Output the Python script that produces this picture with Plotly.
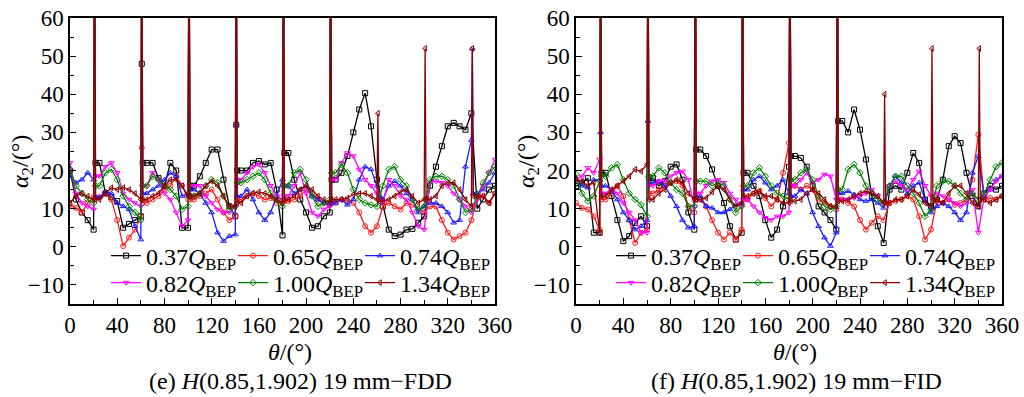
import plotly.graph_objects as go

THETA = list(range(0, 361, 5))
SPIKE_THETA = [20, 60, 100, 140, 180, 220, 260, 300, 340]

LABELS = ["0.37", "0.65", "0.74", "0.82", "1.00", "1.34"]
COLORS = ["#000000", "#ff1a1a", "#1a1aff", "#ff00ff", "#008000", "#8b0000"]
SYMBOLS = ["square-open", "circle-open", "triangle-up-open", "triangle-down-open",
           "diamond-open", "triangle-left-open"]

# ---- panel (e) FDD ----
E_037 = [20, 12.4, 9, 7, 4.5, 22, 14, 13, 12, 5, 6, 7, 8, 22, 22, 18, 16, 22, 20, 5, 5,
         16, 18.5, 22, 25.5, 25.5, 17.6, 10.6, 8, 20, 20, 22, 22.5, 21.6, 22, 15, 3,
         24.6, 17.6, 12.4, 9, 5, 5.4, 8, 9, 17.6, 19.4, 23.8, 30, 36, 40.3, 31.6, 17.6,
         10.6, 4.5, 2.8, 3.2, 4.5, 4.7, 6.3, 8, 16, 21, 26.4, 31.6, 32.5, 31.6, 30.7, 35,
         10, 12.4, 15, 16]
E_065 = [11, 10.2, 9, 11.5, 13, 13, 14, 12.4, 7, 0.2, 2.4, 4.5, 8, 11.5, 12.4, 13.3, 15,
         16, 18.5, 16, 12.4, 12.4, 13.3, 14, 15, 12.4, 9, 7, 8, 12.4, 13.3, 14, 13.3, 12.4,
         12.8, 11.5, 12, 12, 12.4, 13.3, 15, 14, 12.4, 11.5, 11, 11.5, 12.4, 12, 11.5, 9,
         5.4, 3.7, 5.4, 10.6, 11.5, 10.6, 9.8, 11.5, 11, 9.8, 9, 10.6, 10.6, 7, 3.7, 1.9,
         2.8, 3.7, 7, 12.8, 13.3, 11.5, 14]
E_074 = [18.5, 16.8, 17.6, 19.4, 17.6, 13, 14.5, 14, 11.5, 10.6, 9.8, 5.4, 1.9, 14, 15,
         16, 17.6, 19.4, 18.5, 13.3, 14, 15, 14, 11.5, 9, 3.7, 1.5, 2.8, 3.2, 13.3, 15,
         12.4, 9, 7, 9, 13.3, 17.6, 16, 14, 15, 16, 13.3, 12.4, 11.5, 11, 11.5, 12.4, 11,
         12.4, 17.6, 21, 20.3, 16, 12.4, 16, 17.2, 16, 14, 12.4, 9, 10.6, 11.5, 11.5, 10.6,
         9, 6.3, 7, 21, 28, 14, 15, 16.8, 19.4]
E_082 = [22, 14, 11.5, 10.6, 9.8, 18.5, 21, 22, 19.4, 14, 12.4, 11.5, 10.6, 16, 19.4,
         17.6, 14, 12.4, 9, 5.4, 7, 16, 16, 13.3, 11.5, 9.8, 9, 9, 10.6, 17.6, 19.4, 21,
         21.6, 19.4, 16, 13.3, 12.4, 13.3, 16, 19.4, 14, 9, 8, 9.8, 10.6, 17.6, 22, 24.6,
         23.8, 20.3, 17.6, 16, 14, 11.5, 17.6, 16, 13.3, 12.4, 9, 5.4, 4.5, 16.8, 17.2,
         16.8, 16, 14, 12.4, 10.6, 9, 12.4, 16, 19.4, 22.9]
E_100 = [20.3, 16, 14, 12.4, 11.5, 16, 19.4, 20.3, 17.6, 13.3, 10.6, 9, 7, 16, 18.5,
         17.6, 16, 15, 13.3, 9.8, 10.6, 13.3, 14, 16, 17.6, 16.8, 13.3, 9.8, 10.6, 16.8,
         17.6, 18.5, 19.4, 17.6, 14, 12.4, 10.6, 16, 19.4, 20.3, 17.6, 13.3, 10.6, 11.5,
         12.4, 19.4, 21.6, 19.4, 15, 12.4, 11.5, 11, 10.6, 16, 20.3, 21, 17.6, 16, 12.4,
         9.8, 10.6, 17.6, 18.5, 18.5, 17.6, 16, 12.4, 9, 9.8, 13.3, 16.8, 19.4, 21]
E_134 = [11.5, 13.3, 14, 13.3, 12.4, 12.4, 14, 15.5, 15, 15.5, 15, 14, 12.4, 12.4, 13.3,
         14, 16, 17.6, 17.6, 16, 13.3, 13.3, 14, 16, 17.2, 16, 13.3, 10.6, 10.6, 11.5,
         13.3, 14, 14.4, 14, 13.3, 12.4, 11.5, 12.4, 13.3, 15, 16, 15, 13.3, 12.4, 11.5,
         12.4, 12.4, 12.8, 13.7, 14, 14, 13.3, 12.4, 12, 12.4, 13.3, 14.4, 15, 13.3, 11.5,
         12.4, 12.4, 13.3, 16, 16.8, 16.8, 15, 12.4, 10.6, 13.3, 13.3, 11.5, 14]

# spike peaks at SPIKE_THETA (None = no spike)
E_PEAKS = [
    [90, 48, 90, 32, 90, 90, None, None, None],
    [90, 26, 90, 90, 90, 90, None, None, None],
    [90, 90, 90, 32, 90, 90, None, None, 52],
    [90, 90, 90, 90, 90, 90, None, None, None],
    [90, 90, 90, 90, 90, 90, None, None, None],
    [90, 90, 90, 90, 90, 90, 35, 52, 52],
]

# ---- panel (f) FID ----
F_037 = [15.9, 16.8, 18, 3.7, 3.7, 19.4, 13.3, 7, 1.5, 2.8, 6.3, 8, 5.4, 18, 16, 17.2,
         21, 21.6, 17.6, 9, 4.5, 25.5, 23.8, 20.3, 16, 11.5, 5.4, 1.9, 3.7, 19.4, 16,
         13.3, 7, 2.4, 4.5, 10.6, 21, 23.8, 23.3, 21, 16, 10.6, 9, 7, 4.5, 33, 30, 36,
         30.7, 22.9, 13.3, 5.4, 1, 15, 16, 15, 19.4, 24.6, 22, 12.4, 10.6, 12.4, 17.6,
         26.4, 29, 27.2, 19.4, 13.3, 10.6, 14, 16, 15, 16]
F_065 = [11.5, 10.2, 9.8, 8, 4.5, 12.4, 14, 16, 13.3, 7, 1, 3.7, 4.5, 14, 15, 16, 16.8,
         17.2, 16, 10.6, 9, 12.4, 10.6, 7, 3.7, 1.9, 3.7, 1.9, 4.5, 12.4, 14, 14.6, 12.8,
         10.6, 12.4, 19.4, 27.2, 16, 15, 16, 15, 12.4, 11.5, 10.6, 9.8, 12.4, 11.5, 10.6,
         7, 4.5, 6.3, 8, 7, 11.5, 12, 12.4, 13.3, 12.4, 8, 1.9, 4.5, 12, 11.5, 12.4, 11,
         11.5, 12.4, 17.6, 29.4, 12.4, 12.8, 12.4, 13.3]
F_074 = [17.6, 16, 15.5, 17.6, 17.6, 16, 15, 12.4, 9, 7, 4.5, 5.4, 7, 16.8, 17.2, 16,
         13.3, 10.6, 7, 5, 5.4, 13.3, 10.6, 10.2, 9, 9, 9.8, 11, 11.5, 15, 17.6, 18.5,
         16.8, 15, 16, 17.6, 14, 13.3, 15, 14, 9, 5.4, 2.4, 0.2, 3.7, 14, 14.6, 13.7,
         12.4, 12, 12.4, 11.5, 10.2, 16, 18.5, 16.8, 14, 16, 16.8, 12.4, 9, 10.6, 11.5,
         10.6, 9, 7, 9, 19.4, 23.8, 13.3, 15, 17.6, 18.5]
F_082 = [17.6, 18.5, 20.7, 19.4, 22.9, 14, 15, 14, 11.5, 9, 7, 3.7, 3.7, 16, 17.2, 17.2,
         18.5, 19.4, 19.8, 17.6, 10.6, 14, 16, 17.2, 17.6, 16.8, 14, 12.4, 10.6, 12.4,
         10.6, 9, 7.6, 7, 8, 8, 9, 16, 17.6, 19.4, 16.8, 17.6, 19, 18.5, 12.4, 12.4, 12.4,
         12.8, 13.3, 14, 15, 13.3, 11.5, 16, 17.2, 16, 15, 17.6, 19.8, 16, 13.3, 14, 13.3,
         12.4, 11.5, 10.6, 11.5, 15, 3.7, 13.3, 15, 17.2, 18.5]
F_100 = [19, 14, 12, 13.3, 17.2, 18.5, 20.7, 21.6, 17.6, 14, 12.4, 11, 8, 18.5, 20.7,
         19.4, 16.8, 15, 14, 10.6, 10.6, 17.2, 17.2, 16, 16.8, 16, 12.4, 9, 10.6, 16,
         19.4, 20.7, 18.5, 16, 14, 13.3, 12.4, 17.6, 19.4, 20.3, 17.6, 13.3, 10.6, 9.8,
         10.6, 15, 20.3, 21.6, 19.4, 16, 14, 12.4, 11.5, 16, 18.5, 18.5, 16, 14, 11.5, 8,
         9.8, 16, 17.2, 17.2, 16, 14, 12.4, 14, 12.4, 14, 17.6, 21, 22]
F_134 = [17.6, 17.2, 16, 16.8, 3.7, 13.3, 15, 16, 17.2, 18.5, 20.3, 19.8, 21.6, 12.4, 14,
         15, 16.8, 17.6, 16.8, 14, 12.4, 12.4, 12.8, 14.4, 16, 15, 12.4, 10.6, 11.5, 13.3,
         14, 14.6, 13.3, 13.3, 12.4, 11.5, 11.5, 12, 12.4, 14, 15, 14, 12.4, 10.6, 10.6,
         12, 12.4, 13.3, 14, 14.6, 14, 13.3, 11.5, 11.5, 12.4, 12.4, 13.3, 15, 13.7, 11.5,
         10.6, 12.4, 11.5, 14, 16, 16, 14, 11.5, 10.6, 12.4, 11.5, 12.4, 13.3]

F_PEAKS = [
    [90, 90, 90, 90, 90, 90, None, None, None],
    [90, 90, 90, 90, 90, 90, None, None, None],
    [30, 33, 90, 90, 90, 90, None, None, None],
    [90, 90, 90, 90, 90, 90, None, None, None],
    [90, 90, 90, 90, 90, 90, None, None, None],
    [90, 90, 90, 90, 90, 90, 40, 52, 52],
]

E_SERIES = [E_037, E_065, E_074, E_082, E_100, E_134]
F_SERIES = [F_037, F_065, F_074, F_082, F_100, F_134]

X_TICKS = list(range(0, 361, 40))
Y_TICKS = list(range(-10, 61, 10))

FONT = "Liberation Serif"
W, H = 1024, 397


def px(x):
    return x / W


def py(y):
    return 1 - y / H


def build(vals, peaks):
    xs, ys = [], []
    for k, (t, v) in enumerate(zip(THETA, vals)):
        xs.append(t)
        ys.append(v)
        if t in SPIKE_THETA:
            p = peaks[SPIKE_THETA.index(t)]
            if p is not None:
                xs.append(t + 0.8)
                ys.append(p)
                if k + 1 < len(vals):
                    xs.append(t + 1.6)
                    ys.append(vals[k + 1])
    return xs, ys


fig = go.Figure()

for panel, (series, peaks) in enumerate([(E_SERIES, E_PEAKS), (F_SERIES, F_PEAKS)]):
    xa = "x" if panel == 0 else "x2"
    ya = "y" if panel == 0 else "y2"
    for i in range(6):
        xs, ys = build(series[i], peaks[i])
        leg = ["legend", "legend2"][i // 3] if panel == 0 else ["legend3", "legend4"][i // 3]
        fig.add_trace(go.Scatter(
            x=xs, y=ys, xaxis=xa, yaxis=ya, mode="lines+markers",
            name=LABELS[i] + "<i>Q</i><sub>BEP</sub>",
            line=dict(color=COLORS[i], width=1.3),
            marker=dict(symbol=SYMBOLS[i], size=5, color=COLORS[i],
                        line=dict(width=1, color=COLORS[i])),
            legend=leg, showlegend=True,
            legendwidth=(82 if i % 3 < 2 else 110),
        ))

axis_common = dict(showline=True, linecolor="black", linewidth=1.5, mirror=True,
                   ticks="inside", ticklen=6, tickwidth=1, tickcolor="black",
                   showgrid=False, zeroline=False, ticklabeloverflow="allow",
                   tickfont=dict(family=FONT, size=23, color="black"))

Y_TOP = py(18)
Y_BOT = py(304)

fig.update_layout(
    width=W, height=H,
    margin=dict(l=0, r=0, t=0, b=0, autoexpand=False),
    paper_bgcolor="white", plot_bgcolor="white",
    font=dict(family=FONT, size=23, color="black"),
    xaxis=dict(domain=[px(70), px(495)], range=[0, 360], tickvals=X_TICKS,
               anchor="y", minor=dict(dtick=20, ticks="inside", ticklen=4, tickcolor="black"),
               **axis_common),
    yaxis=dict(domain=[Y_BOT, Y_TOP], range=[-15, 60], tickvals=Y_TICKS, anchor="x",
               minor=dict(dtick=5, ticks="inside", ticklen=4, tickcolor="black"),
               **axis_common),
    xaxis2=dict(domain=[px(576), px(1002)], range=[0, 360], tickvals=X_TICKS,
                anchor="y2", minor=dict(dtick=20, ticks="inside", ticklen=4, tickcolor="black"),
                **axis_common),
    yaxis2=dict(domain=[Y_BOT, Y_TOP], range=[-15, 60], tickvals=Y_TICKS, anchor="x2",
                minor=dict(dtick=5, ticks="inside", ticklen=4, tickcolor="black"),
                **axis_common),
)

leg_common = dict(orientation="h", bgcolor="rgba(0,0,0,0)", borderwidth=0,
                  font=dict(family=FONT, size=24, color="black"),
                  xanchor="left", yanchor="middle", itemsizing="trace",
                  tracegroupgap=0, itemwidth=30, entrywidthmode="pixels")
fig.update_layout(
    legend=dict(x=px(106), y=py(256), **leg_common),
    legend2=dict(x=px(106), y=py(283), **leg_common),
    legend3=dict(x=px(611), y=py(256), **leg_common),
    legend4=dict(x=px(611), y=py(283), **leg_common),
)

annotations = [
    dict(text="<i>θ</i>/(°)", x=px(290), y=py(352), size=24),
    dict(text="<i>θ</i>/(°)", x=px(795), y=py(352), size=24),
    dict(text="(e) <i>H</i>(0.85,1.902) 19 mm−FDD", x=px(300), y=py(381), size=24),
    dict(text="(f) <i>H</i>(0.85,1.902) 19 mm−FID", x=px(796), y=py(381), size=24),
    dict(text="<i>α</i><sub>2</sub>/(°)", x=px(22), y=py(162), angle=-90, size=24),
    dict(text="<i>α</i><sub>2</sub>/(°)", x=px(528), y=py(162), angle=-90, size=24),
]
for a in annotations:
    fig.add_annotation(text=a["text"], x=a["x"], y=a["y"], xref="paper", yref="paper",
                       xanchor="center", yanchor="middle", showarrow=False,
                       textangle=a.get("angle", 0),
                       font=dict(family=FONT, size=a.get("size", 23), color="black"))

# remove the default 8px page margin so the figure sits at the window's top-left corner
fig.write_html("out.html",
               config={"displayModeBar": False},
               post_script="document.body.style.margin='0';document.body.style.overflow='hidden';")
